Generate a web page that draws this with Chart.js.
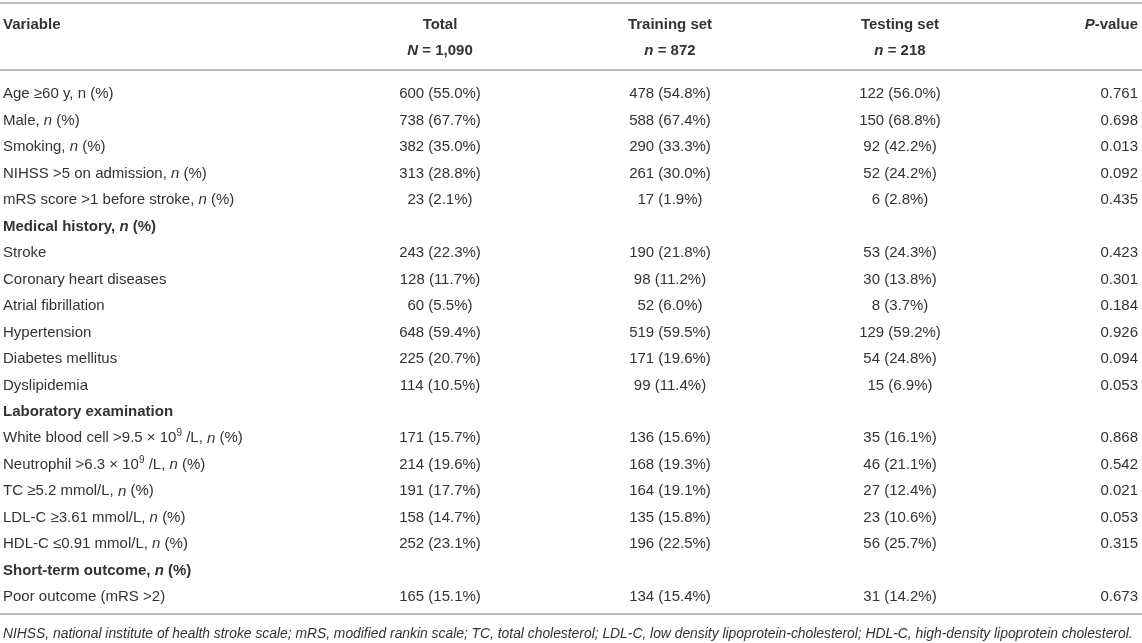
<!DOCTYPE html>
<html lang="en">
<head>
  <meta charset="UTF-8">
  <title>Baseline characteristics</title>
  <script src="https://cdn.jsdelivr.net/npm/chart.js"></script>
  <style>
    body {
      margin: 0;
      background: #fff;
      overflow: hidden;
    }
    canvas {
      display: block;
    }
  </style>
</head>
<body>
  <canvas id="tableChart" width="1142" height="643"></canvas>

  <script>
    // rows of the table; *x* = italic, ^x^ = superscript
    const variables = [
      'Age \u226560 y, n (%)',
      'Male, *n* (%)',
      'Smoking, *n* (%)',
      'NIHSS >5 on admission, *n* (%)',
      'mRS score >1 before stroke, *n* (%)',
      'Medical history, *n* (%)',
      'Stroke',
      'Coronary heart diseases',
      'Atrial fibrillation',
      'Hypertension',
      'Diabetes mellitus',
      'Dyslipidemia',
      'Laboratory examination',
      'White blood cell >9.5 \u00d7 10^9^ /L, *n* (%)',
      'Neutrophil >6.3 \u00d7 10^9^ /L, *n* (%)',
      'TC \u22655.2 mmol/L, *n* (%)',
      'LDL-C \u22653.61 mmol/L, *n* (%)',
      'HDL-C \u22640.91 mmol/L, *n* (%)',
      'Short-term outcome, *n* (%)',
      'Poor outcome (mRS >2)'
    ];
    const sectionRows = [5, 12, 18];

    const totalN    = [600, 738, 382, 313, 23, null, 243, 128, 60, 648, 225, 114, null, 171, 214, 191, 158, 252, null, 165];
    const totalPct  = [55.0, 67.7, 35.0, 28.8, 2.1, null, 22.3, 11.7, 5.5, 59.4, 20.7, 10.5, null, 15.7, 19.6, 17.7, 14.7, 23.1, null, 15.1];
    const trainN    = [478, 588, 290, 261, 17, null, 190, 98, 52, 519, 171, 99, null, 136, 168, 164, 135, 196, null, 134];
    const trainPct  = [54.8, 67.4, 33.3, 30.0, 1.9, null, 21.8, 11.2, 6.0, 59.5, 19.6, 11.4, null, 15.6, 19.3, 19.1, 15.8, 22.5, null, 15.4];
    const testN     = [122, 150, 92, 52, 6, null, 53, 30, 8, 129, 54, 15, null, 35, 46, 27, 23, 56, null, 31];
    const testPct   = [56.0, 68.8, 42.2, 24.2, 2.8, null, 24.3, 13.8, 3.7, 59.2, 24.8, 6.9, null, 16.1, 21.1, 12.4, 10.6, 25.7, null, 14.2];
    const pValues   = [0.761, 0.698, 0.013, 0.092, 0.435, null, 0.423, 0.301, 0.184, 0.926, 0.094, 0.053, null, 0.868, 0.542, 0.021, 0.053, 0.315, null, 0.673];

    const headerTop    = ['Variable', 'Total', 'Training set', 'Testing set', '*P*-value'];
    const headerBottom = ['', '*N* = 1,090', '*n* = 872', '*n* = 218', ''];
    const footnote = 'NIHSS, national institute of health stroke scale; mRS, modified rankin scale; TC, total cholesterol; LDL-C, low density lipoprotein-cholesterol; HDL-C, high-density lipoprotein cholesterol.';

    // layout (in scale units)
    const colX     = [3, 440, 670, 900, 1138];
    const colAlign = ['left', 'center', 'center', 'center', 'right'];
    const headerRows = [-2.62, -1.62];
    const rules = [-3.36, -0.81, 19.7];
    const footRow = 20.38;
    const TEXT_DY = 2;
    const FAMILY = '"Liberation Sans", Arial, Helvetica, sans-serif';
    const SIZE = 15;
    const FOOT_SIZE = 13.85;
    const INK = '#333';

    function segs(str) {
      const out = [];
      str.split(/(\*[^*]+\*|\^[^^]+\^)/).forEach(p => {
        if (!p) return;
        if (p[0] === '*') out.push({ t: p.slice(1, -1), it: true });
        else if (p[0] === '^') out.push({ t: p.slice(1, -1), sup: true });
        else out.push({ t: p });
      });
      return out;
    }

    function fontFor(s, bold, size, italic) {
      return ((s.it || italic) ? 'italic ' : '') + (bold ? 'bold ' : '') +
        (s.sup ? Math.round(size * 0.68) : size) + 'px ' + FAMILY;
    }

    function richText(ctx, str, x, y, align, bold, size, italic) {
      const parts = segs(str);
      let w = 0;
      parts.forEach(s => {
        ctx.font = fontFor(s, bold, size, italic);
        s.w = ctx.measureText(s.t).width;
        w += s.w;
      });
      let cx = align === 'left' ? x : align === 'right' ? x - w : x - w / 2;
      ctx.textAlign = 'left';
      ctx.textBaseline = 'middle';
      parts.forEach(s => {
        ctx.font = fontFor(s, bold, size, italic);
        ctx.fillText(s.t, cx, (s.sup ? y - size * 0.32 : y) + TEXT_DY);
        cx += s.w;
      });
    }

    const cell = (n, pct) => n === null ? '' : `${n} (${pct.toFixed(1)}%)`;

    const tablePlugin = {
      id: 'tableCells',
      afterDraw(chart) {
        const ctx = chart.ctx;
        const xs = chart.scales.x, ys = chart.scales.y;
        const px = c => xs.getPixelForValue(colX[c]);
        ctx.save();
        ctx.fillStyle = INK;

        // rules
        ctx.strokeStyle = '#bcbcbc';
        ctx.lineWidth = 2;
        rules.forEach(r => {
          const y = Math.round(ys.getPixelForValue(r));
          ctx.beginPath();
          ctx.moveTo(xs.getPixelForValue(0), y);
          ctx.lineTo(xs.getPixelForValue(1142), y);
          ctx.stroke();
        });

        // header
        headerTop.forEach((h, c) => richText(ctx, h, px(c), ys.getPixelForValue(headerRows[0]), colAlign[c], true, SIZE));
        headerBottom.forEach((h, c) => richText(ctx, h, px(c), ys.getPixelForValue(headerRows[1]), colAlign[c], true, SIZE));

        // body
        variables.forEach((v, i) => {
          const y = ys.getPixelForValue(i);
          const bold = sectionRows.includes(i);
          richText(ctx, v, px(0), y, 'left', bold, SIZE);
          if (bold) return;
          richText(ctx, cell(totalN[i], totalPct[i]), px(1), y, 'center', false, SIZE);
          richText(ctx, cell(trainN[i], trainPct[i]), px(2), y, 'center', false, SIZE);
          richText(ctx, cell(testN[i], testPct[i]), px(3), y, 'center', false, SIZE);
          richText(ctx, pValues[i].toFixed(3), px(4), y, 'right', false, SIZE);
        });

        // footnote
        richText(ctx, footnote, px(0), ys.getPixelForValue(footRow), 'left', false, FOOT_SIZE, true);
        ctx.restore();
      }
    };

    new Chart(document.getElementById('tableChart'), {
      type: 'scatter',
      data: { datasets: [{ data: [] }] },
      options: {
        responsive: false,
        animation: false,
        layout: { padding: 0 },
        scales: {
          x: { type: 'linear', min: 0, max: 1142, display: false },
          y: { type: 'linear', min: -3.47, max: 20.8, reverse: true, display: false }
        },
        plugins: {
          legend: { display: false },
          tooltip: { enabled: false }
        }
      },
      plugins: [tablePlugin]
    });
  </script>
</body>
</html>
